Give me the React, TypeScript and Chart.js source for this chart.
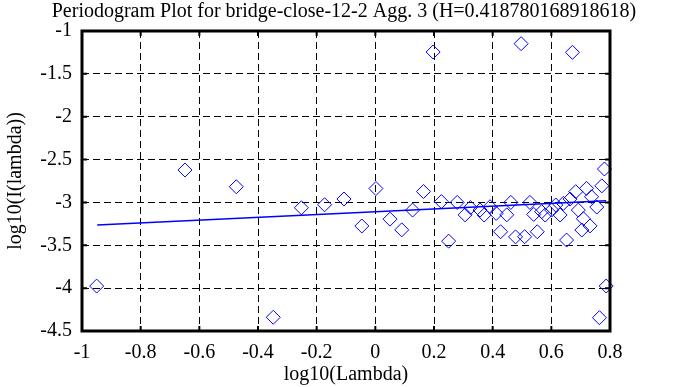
import React, { useEffect, useRef } from "react";
import { Chart, registerables } from "chart.js";

Chart.register(...registerables);

const titleText = "Periodogram Plot for bridge-close-12-2 Agg. 3 (H=0.418780168918618)";
const xTitle = "log10(Lambda)";
const yTitle = "log10(I(lambda))";

const xTicks = [-1, -0.8, -0.6, -0.4, -0.2, 0, 0.2, 0.4, 0.6, 0.8];
const xTickLabels = ["-1", "-0.8", "-0.6", "-0.4", "-0.2", "0", "0.2", "0.4", "0.6", "0.8"];
const yTicks = [-4.5, -4, -3.5, -3, -2.5, -2, -1.5, -1];
const yTickLabels = ["-4.5", "-4", "-3.5", "-3", "-2.5", "-2", "-1.5", "-1"];

const logLambda = [
  -0.95, -0.649, -0.474, -0.348, -0.252, -0.173, -0.107, -0.046, 0.002, 0.05,
  0.09, 0.127, 0.164, 0.197, 0.225, 0.25, 0.279, 0.306, 0.324, 0.357,
  0.371, 0.391, 0.412, 0.427, 0.448, 0.462, 0.478, 0.497, 0.509, 0.527,
  0.54, 0.552, 0.567, 0.579, 0.601, 0.615, 0.63, 0.641, 0.652, 0.664,
  0.672, 0.683, 0.692, 0.704, 0.709, 0.72, 0.732, 0.737, 0.755, 0.764,
  0.772, 0.781, 0.787,
];
const logPeriodogram = [
  -3.976, -2.622, -2.817, -4.34, -3.062, -3.027, -2.96, -3.275, -2.838, -3.195,
  -3.32, -3.089, -2.873, -1.245, -2.99, -3.452, -3.0, -3.145, -3.06, -3.089,
  -3.147, -3.05, -3.128, -3.342, -3.145, -3.0, -3.402, -1.148, -3.4, -3.0,
  -3.14, -3.342, -3.108, -3.147, -3.089, -3.03, -3.147, -3.011, -3.439, -2.96,
  -1.249, -2.875, -3.089, -3.322, -3.19, -2.836, -3.274, -2.934, -3.054, -4.345,
  -2.807, -2.61, -3.975,
];

const fitX = [-0.948, 0.787];
const fitY = [-3.263, -2.981];

const FONT = "'Liberation Serif', 'Times New Roman', serif";
const BLUE = "#0000ff";

const frame = {
  id: "frame",
  afterDraw(chart: any) {
    const { ctx, chartArea } = chart;
    const { left, right, top, bottom } = chartArea;
    const xs = chart.scales.x;
    const ys = chart.scales.y;
    ctx.save();
    ctx.setLineDash([]);
    ctx.strokeStyle = "#000";
    ctx.lineWidth = 2;
    const tl = 5;
    ctx.beginPath();
    xTicks.forEach((v) => {
      const px = xs.getPixelForValue(v);
      ctx.moveTo(px, bottom);
      ctx.lineTo(px, bottom - tl);
      ctx.moveTo(px, top);
      ctx.lineTo(px, top + tl);
    });
    yTicks.forEach((v) => {
      const py = ys.getPixelForValue(v);
      ctx.moveTo(left, py);
      ctx.lineTo(left + tl, py);
      ctx.moveTo(right, py);
      ctx.lineTo(right - tl, py);
    });
    ctx.stroke();
    ctx.lineWidth = 3;
    ctx.strokeRect(left, top, right - left, bottom - top);
    ctx.restore();
  },
};

export default function App() {
  const ref = useRef<HTMLCanvasElement | null>(null);
  useEffect(() => {
    if (!ref.current) return;
    const points = logLambda.map((x, i) => ({ x, y: logPeriodogram[i] }));
    const fit = fitX.map((x, i) => ({ x, y: fitY[i] }));
    const chart = new Chart(ref.current, {
      type: "scatter",
      data: {
        datasets: [
          {
            type: "line",
            data: fit,
            borderColor: BLUE,
            borderWidth: 1.5,
            pointRadius: 0,
            showLine: true,
            fill: false,
            order: 0,
            clip: false,
          } as any,
          {
            data: points,
            pointStyle: "rectRot",
            pointRadius: 7,
            pointBorderWidth: 1,
            borderColor: BLUE,
            backgroundColor: "rgba(0,0,0,0)",
            order: 1,
            clip: false,
          } as any,
        ],
      },
      plugins: [frame],
      options: {
        animation: false,
        responsive: false,
        devicePixelRatio: 1,
        layout: { padding: 0 },
        plugins: {
          legend: { display: false },
          tooltip: { enabled: false },
          title: {
            display: true,
            text: titleText,
            color: "#000",
            font: { family: FONT, size: 20, weight: "normal", lineHeight: 1.2 },
            padding: { top: 0, bottom: 7 },
          },
        },
        scales: {
          x: {
            type: "linear",
            min: -1,
            max: 0.8,
            afterBuildTicks: (s: any) => {
              s.ticks = xTicks.map((v) => ({ value: v }));
            },
            afterFit: (s: any) => {
              s.height = 56;
            },
            ticks: {
              color: "#000",
              font: { family: FONT, size: 20, lineHeight: 1.2 },
              padding: 10,
              maxRotation: 0,
              autoSkip: false,
              callback: (_v: any, i: number) => xTickLabels[i],
            },
            grid: { color: "#000", lineWidth: 1, drawTicks: false },
            border: { display: false, dash: [7, 4] },
            title: {
              display: true,
              text: xTitle,
              color: "#000",
              font: { family: FONT, size: 20, lineHeight: 1.2 },
              padding: { top: 0, bottom: 0 },
            },
          },
          y: {
            type: "linear",
            min: -4.5,
            max: -1,
            afterBuildTicks: (s: any) => {
              s.ticks = yTicks.map((v) => ({ value: v }));
            },
            afterFit: (s: any) => {
              s.width = 82;
            },
            ticks: {
              color: "#000",
              font: { family: FONT, size: 20, lineHeight: 1.2 },
              padding: 10,
              autoSkip: false,
              callback: (_v: any, i: number) => yTickLabels[i],
            },
            grid: { color: "#000", lineWidth: 1, drawTicks: false },
            border: { display: false, dash: [7, 4] },
            title: {
              display: true,
              text: yTitle,
              color: "#000",
              font: { family: FONT, size: 20, lineHeight: 1.2 },
              padding: { top: 4, bottom: 0 },
            },
          },
          y2: {
            type: "linear",
            position: "right",
            display: true,
            min: 0,
            max: 1,
            afterFit: (s: any) => {
              s.width = 78;
            },
            ticks: { display: false },
            grid: { display: false, drawTicks: false },
            border: { display: false },
          },
        },
      } as any,
    });
    return () => chart.destroy();
  }, []);
  return (
    <div style={{ position: "fixed", left: 0, top: 0, width: 688, height: 387, background: "#fff" }}>
      <canvas ref={ref} width={688} height={387} style={{ width: 688, height: 387, display: "block" }} />
    </div>
  );
}
